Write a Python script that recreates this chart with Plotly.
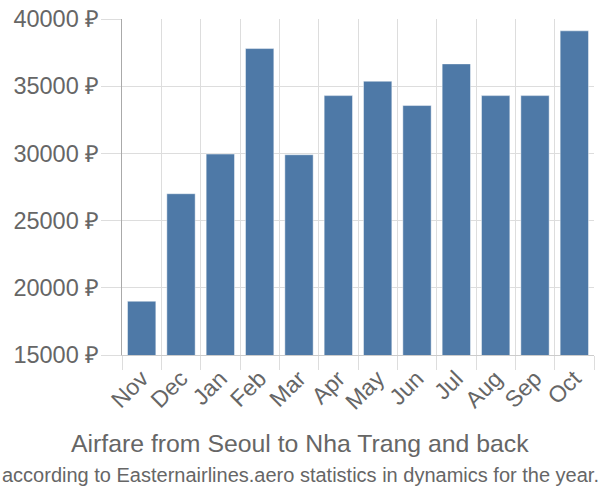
import plotly.graph_objects as go

months = ["Nov", "Dec", "Jan", "Feb", "Mar", "Apr", "May", "Jun", "Jul", "Aug", "Sep", "Oct"]
prices = [19000, 27000, 29950, 37800, 29900, 34300, 35370, 33560, 36660, 34300, 34300, 39120]
y_ticks = [15000, 20000, 25000, 30000, 35000, 40000]
y_tick_labels = [f"{v} ₽" for v in y_ticks]

title = "Airfare from Seoul to Nha Trang and back"
subtitle = "according to Easternairlines.aero statistics in dynamics for the year."

font = "Liberation Sans, Arial, sans-serif"

W, H = 600, 500
M_L, M_R, M_T, M_B = 122, 6, 14, 145
plot_h = H - M_T - M_B
plot_w = W - M_L - M_R


def ypaper(py):
    return (H - M_B - py) / plot_h


x_center = (W / 2 - M_L) / plot_w

fig = go.Figure(go.Bar(
    x=months, y=prices,
    marker=dict(color="#4e79a7", line=dict(color="rgba(255,255,255,0.45)", width=1)),
))

fig.update_layout(
    width=W, height=H,
    margin=dict(l=M_L, r=M_R, t=M_T, b=M_B),
    paper_bgcolor="white", plot_bgcolor="white",
    bargap=0.28,
    showlegend=False,
    font=dict(family=font, color="#666666"),
    annotations=[
        dict(text=title, x=x_center, xref="paper", xanchor="center",
             y=ypaper(445), yref="paper", yanchor="middle", showarrow=False,
             font=dict(size=24.8, color="#666666", family=font)),
        dict(text=subtitle, x=x_center, xref="paper", xanchor="center",
             y=ypaper(477), yref="paper", yanchor="middle", showarrow=False,
             font=dict(size=20, color="#666666", family=font)),
    ],
)

fig.update_xaxes(
    type="category", tickson="boundaries",
    showgrid=True, gridcolor="#dddddd", gridwidth=1,
    ticks="outside", ticklen=14, tickcolor="#dddddd",
    showline=True, linecolor="#cccccc", linewidth=1,
    tickangle=-45, tickfont=dict(size=23, color="#666666", family=font),
)
fig.update_yaxes(
    range=[15000, 40000], tickvals=y_ticks, ticktext=y_tick_labels,
    showgrid=True, gridcolor="#dddddd", gridwidth=1,
    ticks="outside", ticklen=20, tickcolor="#dddddd",
    showline=True, linecolor="#aaaaaa", linewidth=1,
    zeroline=False, ticklabelstandoff=-3,
    tickfont=dict(size=23.5, color="#666666", family=font),
)

fig.write_html("out.html")
